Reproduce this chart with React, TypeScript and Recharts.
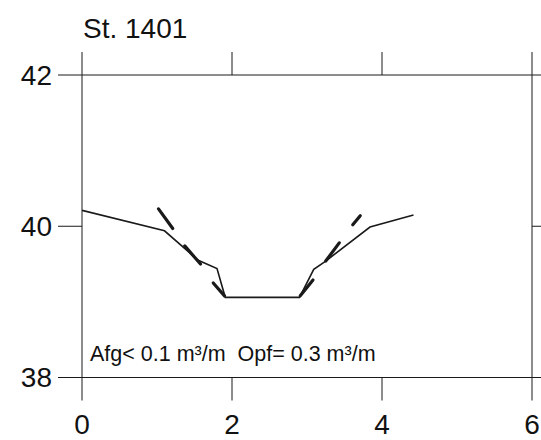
import { ComposedChart, Line, XAxis, YAxis } from "recharts"

// cross-section profile (distance, level)
const profileX = [0, 1.1, 1.55, 1.8, 1.91, 2.9, 3.09, 3.25, 3.84, 4.42]
const profileY = [40.21, 39.94, 39.55, 39.44, 39.06, 39.06, 39.43, 39.54, 39.99, 40.15]

// short heavy strokes along the banks
const strokeX = [[1.02, 1.21], [1.37, 1.58], [1.75, 1.9], [2.91, 3.08], [3.25, 3.43], [3.61, 3.71]]
const strokeY = [[40.23, 39.97], [39.74, 39.5], [39.25, 39.08], [39.08, 39.29], [39.54, 39.78], [40.02, 40.14]]

const xTicks = [0, 2, 4, 6]
const yTicks = [38, 40, 42]
const title = "St. 1401"
const note = "Afg< 0.1 m³/m  Opf= 0.3 m³/m"

const font = "'Liberation Sans', Arial, Helvetica, sans-serif"
const ink = "#1a1a1a"

const profile = profileX.map((x, i) => ({ x, y: profileY[i] }))
const strokes = strokeX.map((xs, i) => xs.map((x, j) => ({ x, y: strokeY[i][j] })))

export default function App() {
  return (
    <div style={{ position: "absolute", left: 0, top: 0, width: 541, height: 440, background: "#fff" }}>
      <ComposedChart width={541} height={440} margin={{ top: 74, right: 0, bottom: 0, left: 0 }}>
        <XAxis xAxisId="b" dataKey="x" type="number" domain={[0, 6]} ticks={xTicks} height={62.5} tickSize={23} tickMargin={14} stroke={ink} tick={{ fill: "#111", fontSize: 28, fontFamily: font }} allowDataOverflow />
        <XAxis xAxisId="t" orientation="top" dataKey="x" type="number" domain={[0, 6]} ticks={xTicks} height={1} tickSize={23} stroke={ink} tickFormatter={() => ""} allowDataOverflow />
        <YAxis yAxisId="l" type="number" domain={[38, 42]} ticks={yTicks} width={82} tickSize={24} tickMargin={6} stroke={ink} tick={{ fill: "#111", fontSize: 28, fontFamily: font }} allowDataOverflow />
        <YAxis yAxisId="r" orientation="right" type="number" domain={[38, 42]} ticks={yTicks} width={9} tickSize={9} stroke={ink} tickFormatter={() => ""} allowDataOverflow />
        <Line xAxisId="b" yAxisId="l" data={profile} dataKey="y" type="linear" stroke={ink} strokeWidth={1.6} dot={false} isAnimationActive={false} />
        {strokes.map((s, i) => (
          <Line key={i} xAxisId="t" yAxisId="r" data={s} dataKey="y" type="linear" stroke={ink} strokeWidth={3.2} strokeLinecap="round" dot={false} isAnimationActive={false} />
        ))}
      </ComposedChart>
      <div style={{ position: "absolute", left: 83, top: 15, fontFamily: font, fontSize: 28, lineHeight: 1, color: "#111", whiteSpace: "pre" }}>{title}</div>
      <div style={{ position: "absolute", left: 90, top: 344, fontFamily: font, fontSize: 21.5, lineHeight: 1, color: "#111", whiteSpace: "pre" }}>{note}</div>
    </div>
  )
}
